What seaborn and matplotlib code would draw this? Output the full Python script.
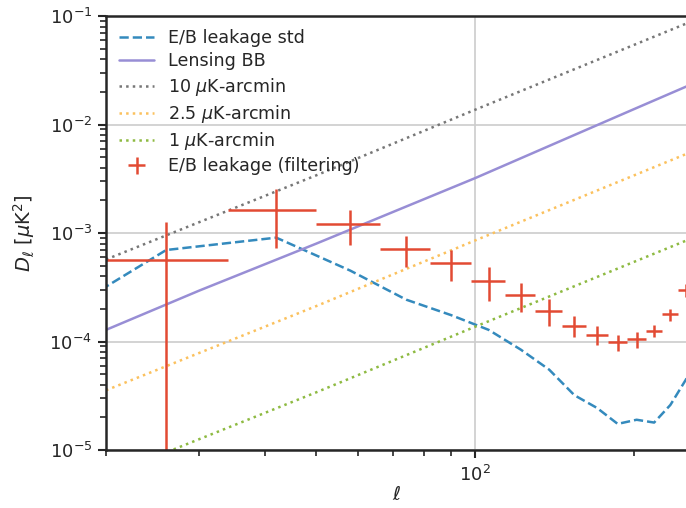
import numpy as np
import matplotlib
matplotlib.use("Agg")
import matplotlib.pyplot as plt
import matplotlib.ticker as mticker
import seaborn as sns

# multipole bins (bin width 16)
ell_bins = [26, 42, 58, 74, 90, 106, 122, 138, 154, 170, 186, 202, 218, 234, 250]
bin_halfwidth = 8

# E/B leakage from filtering, with errors
eb_filt = [5.64e-4, 1.63e-3, 1.21e-3, 7.13e-4, 5.32e-4, 3.61e-4, 2.69e-4, 1.91e-4,
           1.40e-4, 1.15e-4, 9.8e-5, 1.05e-4, 1.25e-4, 1.78e-4, 2.98e-4]
eb_filt_err = [6.9e-4, 9.0e-4, 4.3e-4, 2.3e-4, 1.7e-4, 1.25e-4, 8.0e-5, 5.3e-5,
               3.0e-5, 2.3e-5, 1.6e-5, 1.7e-5, 1.6e-5, 2.3e-5, 4.2e-5]

# E/B leakage std
ell_std = [10, 26, 42, 58, 74, 90, 106, 122, 138, 154, 170, 186, 202, 218, 234, 250, 266]
eb_std = [4.1e-5, 6.97e-4, 9.06e-4, 4.5e-4, 2.43e-4, 1.75e-4, 1.28e-4, 8.4e-5, 5.5e-5,
          3.2e-5, 2.44e-5, 1.74e-5, 1.9e-5, 1.79e-5, 2.6e-5, 4.4e-5, 7.5e-5]

# lensing BB
ell_lens = [20, 30, 50, 72, 100, 150, 200, 252]
lens_bb = [1.28e-4, 2.94e-4, 7.98e-4, 1.66e-3, 3.21e-3, 7.57e-3, 1.39e-2, 2.26e-2]

# white noise levels
ell_noise = [20, 50, 100, 252]
noise_10 = [5.7e-4, 3.4e-3, 1.37e-2, 8.6e-2]
noise_2p5 = [3.55e-5, 2.12e-4, 8.55e-4, 5.4e-3]
noise_1 = [5.7e-6, 3.4e-5, 1.37e-4, 8.6e-4]

sns.set_theme(style="ticks", context="notebook")
plt.rcParams.update({
    "axes.linewidth": 1.8,
    "xtick.major.width": 1.5, "ytick.major.width": 1.5,
    "xtick.minor.width": 1.2, "ytick.minor.width": 1.2,
    "xtick.major.size": 6, "ytick.major.size": 6,
    "xtick.minor.size": 4, "ytick.minor.size": 4,
    "xtick.major.pad": 5, "ytick.major.pad": 4,
    "xtick.labelsize": 13, "ytick.labelsize": 13,
    "axes.labelsize": 14, "legend.fontsize": 12.6,
    "xtick.minor.visible": True, "ytick.minor.visible": True,
})

red, blue, purple = "#E24A33", "#348ABD", "#988ED5"
grey, orange, green = "#777777", "#FBC15E", "#8EBA42"
lw = 1.8

fig = plt.figure(figsize=(6.86, 5.08), dpi=100)
ax = fig.add_axes([106 / 686, 1 - 450 / 508, 1 - 106 / 686 + 0.002, (450 - 16) / 508])

sns.lineplot(x=ell_std, y=eb_std, ax=ax, color=blue, linestyle="--", lw=lw,
             label="E/B leakage std")
sns.lineplot(x=ell_lens, y=lens_bb, ax=ax, color=purple, lw=lw, label="Lensing BB")
sns.lineplot(x=ell_noise, y=noise_10, ax=ax, color=grey, linestyle=":", lw=lw,
             label=r"10 $\mu$K-arcmin")
sns.lineplot(x=ell_noise, y=noise_2p5, ax=ax, color=orange, linestyle=":", lw=lw,
             label=r"2.5 $\mu$K-arcmin")
sns.lineplot(x=ell_noise, y=noise_1, ax=ax, color=green, linestyle=":", lw=lw,
             label=r"1 $\mu$K-arcmin")
ax.errorbar(ell_bins, eb_filt, xerr=bin_halfwidth, yerr=eb_filt_err, fmt="none",
            ecolor=red, elinewidth=lw, capsize=0, label="E/B leakage (filtering)")

ax.set_xscale("log", nonpositive="clip")
ax.set_yscale("log", nonpositive="clip")
ax.set_xlim(20, 252)
ax.set_ylim(1e-5, 1e-1)
ax.xaxis.set_minor_formatter(mticker.NullFormatter())
ax.grid(True, which="major", color="#cccccc", lw=1.2)
ax.spines["right"].set_visible(False)

ax.set_xlabel(r"$\ell$", labelpad=0)
ax.set_ylabel(r"$D_\ell$ [$\mu$K$^2$]", labelpad=9)
ax.legend(loc="upper left", frameon=False, labelspacing=0.3, borderaxespad=0.35)

fig.savefig("out.png", dpi=100)
